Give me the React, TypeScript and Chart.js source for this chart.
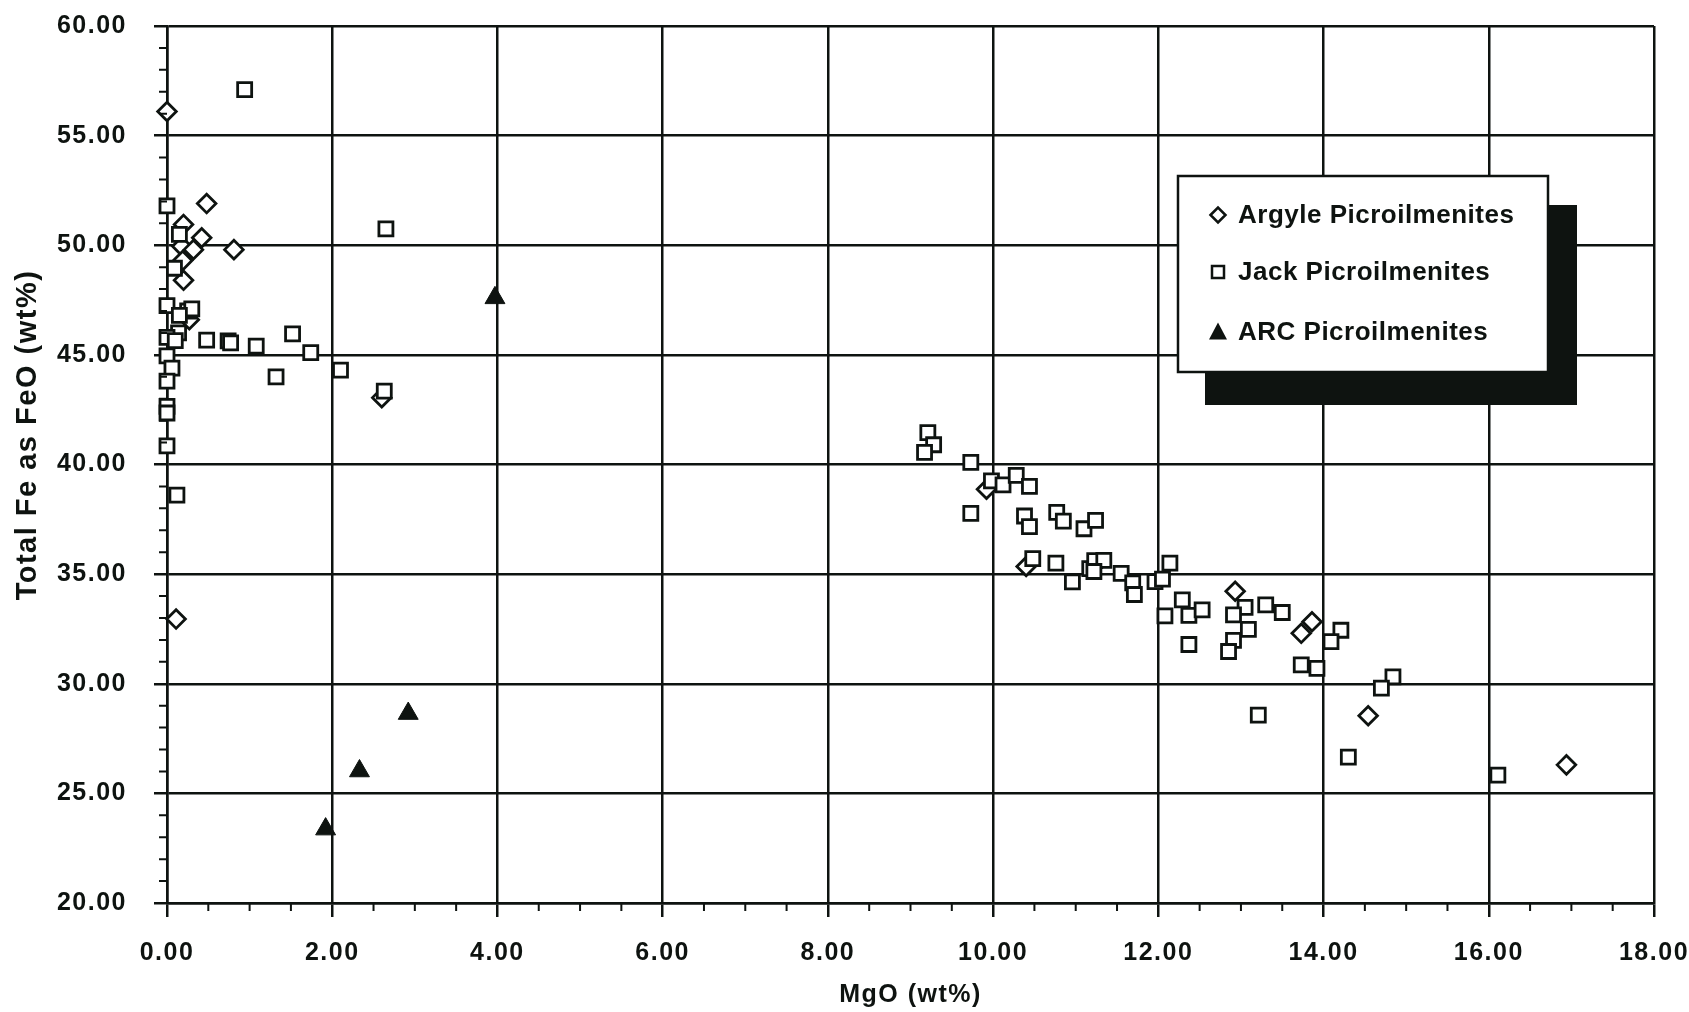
import React, { useEffect, useRef } from 'react';
import { Chart, registerables } from 'chart.js';

Chart.register(...registerables);

const INK = '#0e1310';
const FONT = "'Liberation Sans', Arial, Helvetica, sans-serif";

// ---- data ----
const seriesNames = ['Argyle Picroilmenites', 'Jack Picroilmenites', 'ARC Picroilmenites'];
const xTitle = 'MgO (wt%)';
const yTitle = 'Total Fe as FeO (wt%)';
const xMin = 0, xMax = 18, xStep = 2;
const yMin = 20, yMax = 60, yStep = 5;

const argyleMgO = [0.0, 0.48, 0.2, 0.42, 0.18, 0.32, 0.81, 0.19, 0.2, 0.27, 2.6, 0.11, 9.92, 10.4, 12.93, 13.73, 13.86, 14.54, 16.94];
const argyleFeO = [56.1, 51.9, 50.95, 50.34, 49.95, 49.8, 49.8, 49.3, 48.4, 46.6, 43.05, 32.95, 38.87, 35.35, 34.22, 32.3, 32.83, 28.54, 26.3];

const jackMgO = [
  0.94, 0.0, 0.15, 0.09, 0.0, 0.25, 0.3, 0.15, 0.14, 0.0, 0.1, 0.48, 0.74, 0.77, 1.08, 1.52, 1.74, 2.1, 1.32,
  0.0, 0.06, 0.0, 0.0, 0.0, 0.0, 0.12, 2.63, 2.65,
  9.21, 9.28, 9.17, 9.73, 9.98, 10.12, 10.28, 10.44, 9.73, 10.38, 10.44, 10.77, 10.85, 11.1, 11.24,
  10.48, 10.76, 10.96, 11.17, 11.23, 11.34, 11.22, 11.55, 11.69, 11.71, 11.96, 12.05, 12.14,
  12.29, 12.08, 12.37, 12.53, 12.37, 13.05, 12.91, 13.09, 12.91, 12.85, 13.3, 13.5,
  13.73, 13.92, 14.21, 14.09, 14.84, 14.7, 13.21, 14.3, 16.11,
];
const jackFeO = [
  57.1, 51.8, 50.5, 48.95, 47.25, 47.0, 47.1, 46.8, 46.0, 45.8, 45.65, 45.67, 45.64, 45.55, 45.4, 45.96, 45.1, 44.3, 44.0,
  44.95, 44.4, 43.8, 42.65, 42.35, 40.85, 38.6, 43.35, 50.75,
  41.45, 40.9, 40.55, 40.1, 39.25, 39.07, 39.5, 39.0, 37.77, 37.65, 37.17, 37.82, 37.42, 37.07, 37.45,
  35.71, 35.5, 34.65, 35.25, 35.62, 35.63, 35.12, 35.03, 34.6, 34.07, 34.66, 34.77, 35.5,
  33.83, 33.1, 33.12, 33.37, 31.79, 33.48, 33.14, 32.48, 31.98, 31.47, 33.6, 33.25,
  30.86, 30.7, 32.44, 31.92, 30.31, 29.8, 28.57, 26.65, 25.83,
];

const arcMgO = [1.92, 2.33, 2.92, 3.97];
const arcFeO = [23.37, 26.02, 28.64, 47.6];

const toPoints = (xs: number[], ys: number[]) => xs.map((x, i) => ({ x, y: ys[i] }));

// ---- plugins ----
const spacingPlugin = {
  id: 'spacing',
  beforeDraw(chart: any) {
    (chart.ctx as any).letterSpacing = '1.5px';
  },
};

const minorTicksPlugin = {
  id: 'minorTicks',
  afterDraw(chart: any) {
    const { ctx, chartArea, scales } = chart;
    ctx.save();
    ctx.strokeStyle = INK;
    ctx.lineWidth = 2;
    ctx.beginPath();
    for (let v = yMin + 1; v < yMax; v++) {
      if (v % yStep === 0) continue;
      const py = scales.y.getPixelForValue(v);
      ctx.moveTo(chartArea.left - 8, py);
      ctx.lineTo(chartArea.left, py);
    }
    for (let v = xMin + 0.5; v < xMax; v += 0.5) {
      if (Math.abs(v / xStep - Math.round(v / xStep)) < 1e-6) continue;
      const px = scales.x.getPixelForValue(v);
      ctx.moveTo(px, chartArea.bottom);
      ctx.lineTo(px, chartArea.bottom + 8);
    }
    ctx.stroke();
    ctx.restore();
  },
};

const yTitlePlugin = {
  id: 'yTitle',
  afterDraw(chart: any) {
    const ctx = chart.ctx as CanvasRenderingContext2D;
    ctx.save();
    (ctx as any).letterSpacing = '1.5px';
    ctx.translate(28, 435);
    ctx.rotate(-Math.PI / 2);
    ctx.fillStyle = INK;
    ctx.font = `bold 29px ${FONT}`;
    ctx.textAlign = 'center';
    ctx.textBaseline = 'middle';
    ctx.fillText(yTitle, 0, 0);
    ctx.restore();
  },
};

const legendPlugin = {
  id: 'boxLegend',
  afterDraw(chart: any) {
    const ctx = chart.ctx as CanvasRenderingContext2D;
    ctx.save();
    (ctx as any).letterSpacing = '0.5px';
    // shadow
    ctx.fillStyle = INK;
    ctx.fillRect(1205, 205, 372, 200);
    // box
    ctx.fillStyle = '#ffffff';
    ctx.fillRect(1178, 176, 370, 196);
    ctx.strokeStyle = INK;
    ctx.lineWidth = 2.5;
    ctx.strokeRect(1178, 176, 370, 196);

    const rows = [215, 272, 332];
    const mx = 1218;
    ctx.lineWidth = 2.5;
    // diamond
    let y = rows[0];
    ctx.beginPath();
    ctx.moveTo(mx - 7.5, y); ctx.lineTo(mx, y - 7.5); ctx.lineTo(mx + 7.5, y); ctx.lineTo(mx, y + 7.5); ctx.closePath();
    ctx.fillStyle = '#fff'; ctx.fill(); ctx.stroke();
    // square
    y = rows[1];
    ctx.beginPath();
    ctx.rect(mx - 6, y - 6, 12, 12);
    ctx.fill(); ctx.stroke();
    // triangle
    y = rows[2];
    ctx.beginPath();
    ctx.moveTo(mx, y - 9.5); ctx.lineTo(mx + 9, y + 7.5); ctx.lineTo(mx - 9, y + 7.5); ctx.closePath();
    ctx.fillStyle = INK; ctx.fill();

    ctx.fillStyle = INK;
    ctx.font = `bold 26px ${FONT}`;
    ctx.textBaseline = 'middle';
    ctx.textAlign = 'left';
    seriesNames.forEach((name, i) => ctx.fillText(name, 1238, rows[i] + 1));
    ctx.restore();
  },
};

export default function App() {
  const ref = useRef<HTMLCanvasElement | null>(null);

  useEffect(() => {
    if (!ref.current) return;
    const tickFont = { family: FONT, size: 25, weight: 'bold' as const };
    const chart = new Chart(ref.current, {
      type: 'scatter',
      data: {
        datasets: [
          {
            label: seriesNames[0],
            data: toPoints(argyleMgO, argyleFeO),
            pointStyle: 'rectRot',
            pointRadius: 9.3,
            pointBackgroundColor: '#ffffff',
            pointBorderColor: INK,
            pointBorderWidth: 2.8,
            order: 3,
            clip: false,
          },
          {
            label: seriesNames[1],
            data: toPoints(jackMgO, jackFeO),
            pointStyle: 'rect',
            pointRadius: 9.9,
            pointBackgroundColor: '#ffffff',
            pointBorderColor: INK,
            pointBorderWidth: 2.8,
            order: 2,
            clip: false,
          },
          {
            label: seriesNames[2],
            data: toPoints(arcMgO, arcFeO),
            pointStyle: 'triangle',
            pointRadius: 11.5,
            pointBackgroundColor: INK,
            pointBorderColor: INK,
            pointBorderWidth: 1,
            order: 1,
            clip: false,
          },
        ],
      } as any,
      options: {
        animation: false,
        responsive: false,
        maintainAspectRatio: false,
        layout: { padding: { left: 0, top: 26, right: 35, bottom: 0 } },
        plugins: {
          legend: { display: false },
          tooltip: { enabled: false },
        },
        scales: {
          x: {
            type: 'linear',
            min: xMin,
            max: xMax,
            afterFit: (s: any) => {
              s.height = 109;
              s.paddingLeft = 0;
              s.paddingRight = 0;
            },
            ticks: {
              stepSize: xStep,
              color: INK,
              font: tickFont,
              padding: 21,
              maxRotation: 0,
              callback: (v: any) => Number(v).toFixed(2),
            },
            grid: { color: INK, lineWidth: 2.5, tickLength: 14, tickColor: INK, tickWidth: 2.5 },
            border: { display: true, color: INK, width: 2.5 },
            title: {
              display: true,
              text: xTitle,
              color: INK,
              font: { family: FONT, size: 25, weight: 'bold' },
              padding: { top: 0, bottom: 2 },
            },
          },
          y: {
            type: 'linear',
            min: yMin,
            max: yMax,
            afterFit: (s: any) => {
              s.width = 167;
              s.paddingTop = 0;
              s.paddingBottom = 0;
            },
            ticks: {
              stepSize: yStep,
              color: INK,
              font: tickFont,
              padding: 27,
              callback: (v: any) => Number(v).toFixed(2),
            },
            grid: { color: INK, lineWidth: 2.5, tickLength: 13, tickColor: INK, tickWidth: 2.5 },
            border: { display: true, color: INK, width: 2.5 },
            title: { display: false, text: yTitle },
          },
        },
      } as any,
      plugins: [spacingPlugin, minorTicksPlugin, yTitlePlugin, legendPlugin],
    });
    return () => chart.destroy();
  }, []);

  return (
    <div style={{ position: 'absolute', left: 0, top: 0, width: 1689, height: 1012, background: '#fff' }}>
      <canvas ref={ref} width={1689} height={1012} style={{ display: 'block', width: 1689, height: 1012 }} />
    </div>
  );
}
